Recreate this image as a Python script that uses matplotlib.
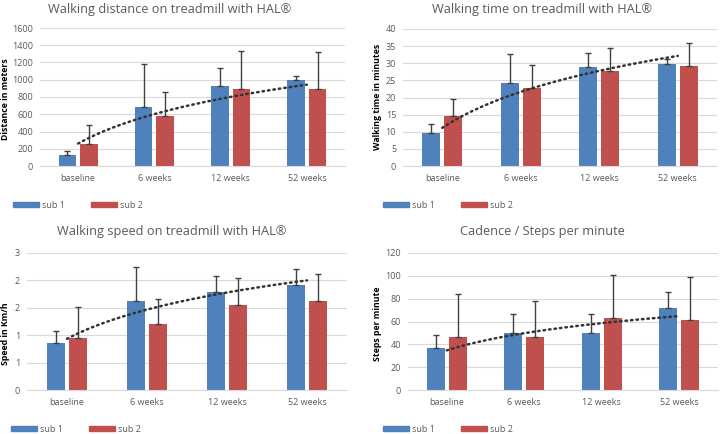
import numpy as np
import matplotlib.pyplot as plt
from matplotlib.patches import Patch

plt.rcParams['font.family'] = ['Open Sans', 'DejaVu Sans']

# カテゴリと凡例
categories = ['baseline', '6 weeks', '12 weeks', '52 weeks']
series_names = ['sub 1', 'sub 2']

# 距離 [m]
dist_sub1 = [124, 686, 922, 992]
dist_sub2 = [256, 574, 888, 888]
dist_sd1 = [50, 496, 214, 51]
dist_sd2 = [225, 283, 445, 434]

# 歩行時間 [min]
time_sub1 = [9.6, 24.2, 29.0, 29.9]
time_sub2 = [14.6, 22.8, 27.6, 29.1]
time_sd1 = [2.7, 8.4, 4.1, 1.2]
time_sd2 = [5.1, 6.6, 6.8, 6.7]

# 速度 [km/h]
speed_sub1 = [0.85, 1.63, 1.79, 1.91]
speed_sub2 = [0.94, 1.21, 1.56, 1.62]
speed_sd1 = [0.23, 0.61, 0.29, 0.30]
speed_sd2 = [0.58, 0.45, 0.48, 0.49]

# ケイデンス [steps/min]
cad_sub1 = [36.5, 49.9, 49.6, 71.8]
cad_sub2 = [46.1, 46.1, 63.4, 61.6]
cad_sd1 = [11.7, 17.0, 17.3, 14.0]
cad_sd2 = [38.3, 32.1, 37.3, 37.7]

BLUE = '#4F81BD'
RED = '#C0504D'
GRID = '#D9D9D9'
TXT = '#595959'

fig = plt.figure(figsize=(7.2, 4.34), dpi=100)
W, H = 720, 434


def px_axes(x0, y_top, x1, y_bot):
    return fig.add_axes([x0 / W, 1 - y_bot / H, (x1 - x0) / W, (y_bot - y_top) / H])


def panel(ax, s1, s2, e1, e2, trend, ymax, step, ylabel, title, tpos, ylpos, lgpos, ticklabels=None):
    x = np.arange(len(categories))
    bw = 0.23
    off = 0.14
    ax.bar(x - off, s1, bw, color=BLUE, zorder=2)
    ax.bar(x + off, s2, bw, color=RED, zorder=2)
    ax.errorbar(x - off, s1, yerr=[np.zeros(4), e1], fmt='none', ecolor='#404040',
                elinewidth=1, capsize=2.5, capthick=1, zorder=3)
    ax.errorbar(x + off, s2, yerr=[np.zeros(4), e2], fmt='none', ecolor='#404040',
                elinewidth=1, capsize=2.5, capthick=1, zorder=3)
    # 対数近似曲線
    b, a = np.polyfit(np.log(x + 1), trend, 1)
    xs = np.linspace(0, 3, 60)
    ax.plot(xs, a + b * np.log(xs + 1), color='#333333', lw=1.8,
            linestyle=(0, (0.6, 1.6)), dash_capstyle='round', zorder=4)
    ax.set_xlim(-0.5, 3.5)
    ax.set_ylim(0, ymax)
    ticks = np.arange(0, ymax + step / 2, step)
    ax.set_yticks(ticks)
    if ticklabels is not None:
        ax.set_yticklabels(ticklabels)
    ax.set_xticks(x)
    ax.set_xticklabels(categories)
    ax.grid(axis='y', color=GRID, lw=0.8, zorder=0)
    for s in ['top', 'right', 'left']:
        ax.spines[s].set_visible(False)
    ax.spines['bottom'].set_color(GRID)
    ax.tick_params(length=0, labelsize=6.5, colors=TXT, pad=6)
    ax.tick_params(axis='y', pad=5)
    fig.text(tpos[0] / W, 1 - tpos[1] / H, title, ha='center', va='center',
             fontsize=9.2, color=TXT)
    fig.text(ylpos[0] / W, 1 - ylpos[1] / H, ylabel, ha='center', va='center',
             rotation=90, fontsize=6.3, fontweight='bold', color='black')
    handles = [Patch(color=BLUE), Patch(color=RED)]
    fig.legend(handles, series_names, loc='center left',
               bbox_to_anchor=(lgpos[0] / W, 1 - lgpos[1] / H), ncol=2,
               frameon=False, fontsize=6.5, handlelength=2.9, handleheight=0.55,
               columnspacing=2.9, handletextpad=0.3, labelcolor=TXT,
               borderaxespad=0, borderpad=0)


ax1 = px_axes(40, 28, 345, 166)
panel(ax1, dist_sub1, dist_sub2, dist_sd1, dist_sd2, dist_sub2, 1600, 200,
      'Distance in meters', 'Walking distance on treadmill with HAL®',
      (170, 10), (6, 99), (13, 205))

ax2 = px_axes(403, 29, 717, 166)
panel(ax2, time_sub1, time_sub2, time_sd1, time_sd2, time_sub1, 40, 5,
      'Walking time in minutes', 'Walking time on treadmill with HAL®',
      (542, 10), (377, 97), (383, 205))

ax3 = px_axes(27, 253, 347, 390)
panel(ax3, speed_sub1, speed_sub2, speed_sd1, speed_sd2, speed_sub1, 2.5, 0.5,
      'Speed in Km/h', 'Walking speed on treadmill with HAL®',
      (172, 232), (6, 334), (11, 429), ticklabels=['0', '1', '1', '2', '2', '3'])

ax4 = px_axes(408, 253, 718, 390)
panel(ax4, cad_sub1, cad_sub2, cad_sd1, cad_sd2, cad_sub1, 120, 20,
      'Steps per minute', 'Cadence / Steps per minute',
      (542, 232), (377, 324), (383, 429))

fig.savefig('out.png', dpi=100)
